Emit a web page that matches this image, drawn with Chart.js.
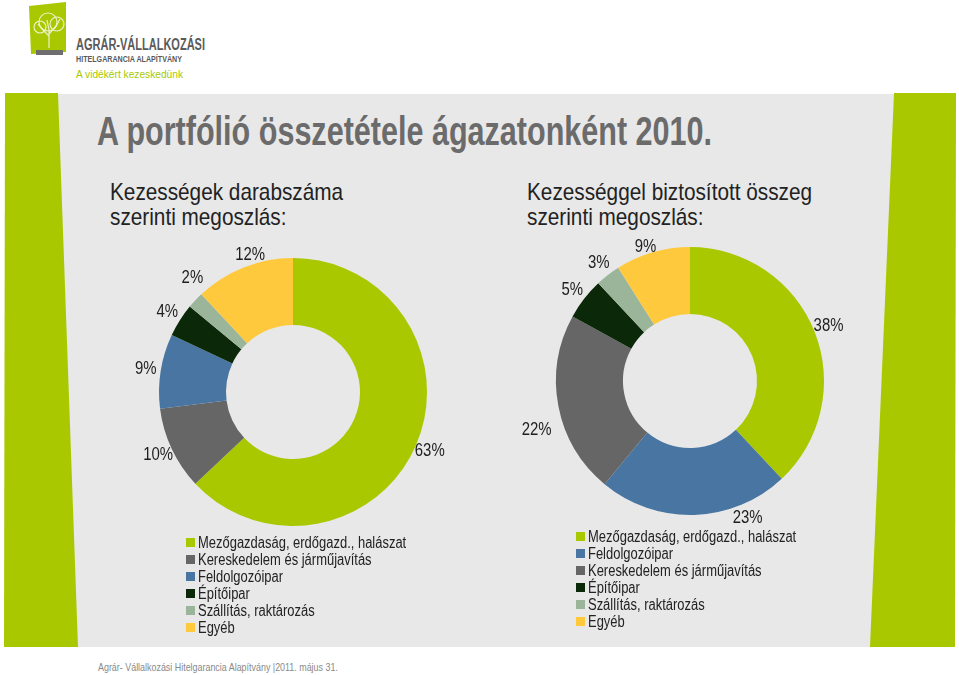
<!DOCTYPE html>
<html>
<head>
<meta charset="utf-8">
<script src="https://cdn.jsdelivr.net/npm/chart.js@4.4.1/dist/chart.umd.min.js"></script>
<style>
  body { margin: 0; }
  #page { position: relative; width: 959px; height: 675px; background: #fff; overflow: hidden;
          font-family: "Liberation Sans Narrow", "Arial Narrow", "Liberation Sans", sans-serif; }
  .abs { position: absolute; }
  #panel { left: 20px; top: 94px; width: 920px; height: 553px; background: #e8e8e8; }
  .bar { background: #a9c800; }
  /* a keskeny betűtípus hiányzik, ezért vízszintesen összenyomjuk */
  .narrow { transform-origin: left center; white-space: nowrap; }
  #title { left: 97px; top: 111px; font-size: 41px; line-height: 1; font-weight: bold; color: #6b6b6b; transform: scaleX(0.745); }
  .sub { font-size: 24px; line-height: 25px; color: #222; transform: scaleX(0.865); }
  .legend { font-size: 16px; line-height: 17px; color: #222; white-space: nowrap; }
  .legend .item { display: flex; align-items: center; }
  .legend .box { width: 9px; height: 9px; margin-right: 3px; flex: none; }
  .legend .txt { display: inline-block; transform: scaleX(0.81); transform-origin: left center; }
  #footer { left: 98px; top: 661px; font-size: 11px; color: #8a8a8a; transform: scaleX(0.81); }
  canvas { position: absolute; }
</style>
</head>
<body>
<div id="page">
  <!-- logó -->
  <svg class="abs" style="left:0;top:0" width="220" height="90">
    <polygon points="29,6 66,2 66,52 31,54" fill="#a9c800"/>
    <rect x="36" y="50" width="27" height="5" fill="#6e6e6e"/>
    <g fill="none" stroke="#f4f8e0" stroke-width="1.2" opacity="0.9">
      <path d="M49,48 L49,30 M49,36 L41,28 M49,34 L57,25 M49,30 L47,20 M44,31 L38,24 M55,28 L60,19"/>
      <circle cx="48" cy="22" r="9"/><circle cx="40" cy="27" r="6"/><circle cx="57" cy="24" r="7"/>
    </g>
    <text x="76" y="50" textLength="129" lengthAdjust="spacingAndGlyphs" font-family="Liberation Sans, sans-serif" font-weight="bold" font-size="16" fill="#5a5a5a">AGRÁR-VÁLLALKOZÁSI</text>
    <text x="76" y="62" textLength="106" lengthAdjust="spacingAndGlyphs" font-family="Liberation Sans, sans-serif" font-weight="bold" font-size="9.5" fill="#5a5a5a">HITELGARANCIA ALAPÍTVÁNY</text>
    <text x="76" y="78" textLength="107" lengthAdjust="spacingAndGlyphs" font-family="Liberation Sans, sans-serif" font-size="10.5" fill="#a9c800">A vidékért kezeskedünk</text>
  </svg>

  <div id="panel" class="abs"></div>
  <div class="abs bar" style="left:0;top:93px;width:959px;height:554px;clip-path:polygon(5px 0, 58px 0, 78px 554px, 4px 554px)"></div>
  <div class="abs bar" style="left:0;top:93px;width:959px;height:554px;clip-path:polygon(894px 0, 956px 0, 955px 554px, 870px 554px)"></div>

  <div id="title" class="abs narrow">A portfólió összetétele ágazatonként 2010.</div>
  <div class="abs sub narrow" style="left:110px;top:179px">Kezességek darabszáma<br>szerinti megoszlás:</div>
  <div class="abs sub narrow" style="left:527px;top:179px">Kezességgel biztosított összeg<br>szerinti megoszlás:</div>

  <canvas id="chartDarab" width="350" height="350" style="left:118px;top:217px"></canvas>
  <canvas id="chartOsszeg" width="350" height="350" style="left:515px;top:206px"></canvas>

  <div id="legendDarab" class="abs legend" style="left:186px;top:534px"></div>
  <div id="legendOsszeg" class="abs legend" style="left:576px;top:528px"></div>

  <div id="footer" class="abs narrow">Agrár- Vállalkozási Hitelgarancia Alapítvány |2011. május 31.</div>
</div>

<script>
// Kezességek darabszáma szerint
const agazatokDarab = ['Mezőgazdaság, erdőgazd., halászat', 'Kereskedelem és járműjavítás', 'Feldolgozóipar', 'Építőipar', 'Szállítás, raktározás', 'Egyéb'];
const ertekekDarab = [63, 10, 9, 4, 2, 12];
const szinekDarab = ['#a9c800', '#666666', '#4875a1', '#0b2808', '#9ab59a', '#ffc93d'];

// Kezességgel biztosított összeg szerint
const agazatokOsszeg = ['Mezőgazdaság, erdőgazd., halászat', 'Feldolgozóipar', 'Kereskedelem és járműjavítás', 'Építőipar', 'Szállítás, raktározás', 'Egyéb'];
const ertekekOsszeg = [38, 23, 22, 5, 3, 9];
const szinekOsszeg = ['#a9c800', '#4875a1', '#666666', '#0b2808', '#9ab59a', '#ffc93d'];

const betu = '"Liberation Sans Narrow", "Arial Narrow", "Liberation Sans", sans-serif';

// százalék feliratok a gyűrű körül
const szazalekFeliratok = {
    id: 'szazalekFeliratok',
    afterDatasetsDraw(chart, args, opts) {
        const ctx = chart.ctx;
        const meta = chart.getDatasetMeta(0);
        const ertekek = chart.data.datasets[0].data;
        ctx.save();
        ctx.font = '18px ' + betu;
        ctx.fillStyle = '#1e1e1e';
        ctx.textAlign = 'center';
        ctx.textBaseline = 'middle';
        meta.data.forEach((arc, i) => {
            const p = arc.getProps(['x', 'y', 'startAngle', 'endAngle', 'outerRadius'], true);
            const kozep = (p.startAngle + p.endAngle) / 2;
            const r = p.outerRadius + opts.tav;
            const eltol = (opts.eltolas && opts.eltolas[i]) || [0, 0];
            ctx.save();
            ctx.translate(p.x + Math.cos(kozep) * r + eltol[0], p.y + Math.sin(kozep) * r + eltol[1]);
            ctx.scale(0.83, 1); // keskeny betű utánzása
            ctx.fillText(ertekek[i] + '%', 0, 0);
            ctx.restore();
        });
        ctx.restore();
    }
};

function gyuru(canvasId, cimkek, ertekek, szinek, eltolas) {
    return new Chart(document.getElementById(canvasId), {
        type: 'doughnut',
        data: {
            labels: cimkek,
            datasets: [{
                data: ertekek,
                backgroundColor: szinek,
                borderWidth: 0,
            }]
        },
        options: {
            responsive: false,
            animation: false,
            devicePixelRatio: 1,
            cutout: '50%',
            layout: { padding: 41 },
            plugins: {
                legend: { display: false },
                tooltip: { enabled: false },
                szazalekFeliratok: { tav: 15, eltolas: eltolas },
            }
        },
        plugins: [szazalekFeliratok]
    });
}

// jelmagyarázat a tömbökből
function jelmagyarazat(divId, cimkek, szinek) {
    const div = document.getElementById(divId);
    cimkek.forEach((c, i) => {
        const sor = document.createElement('div');
        sor.className = 'item';
        const doboz = document.createElement('span');
        doboz.className = 'box';
        doboz.style.background = szinek[i];
        const szoveg = document.createElement('span');
        szoveg.className = 'txt';
        szoveg.textContent = c;
        sor.appendChild(doboz);
        sor.appendChild(szoveg);
        div.appendChild(sor);
    });
}

gyuru('chartDarab', agazatokDarab, ertekekDarab, szinekDarab, { 4: [8, -12], 5: [12, 2] });
gyuru('chartOsszeg', agazatokOsszeg, ertekekOsszeg, szinekOsszeg, { 1: [53, -12], 2: [-7, 21], 5: [-3, 9] });
jelmagyarazat('legendDarab', agazatokDarab, szinekDarab);
jelmagyarazat('legendOsszeg', agazatokOsszeg, szinekOsszeg);
</script>
</body>
</html>
